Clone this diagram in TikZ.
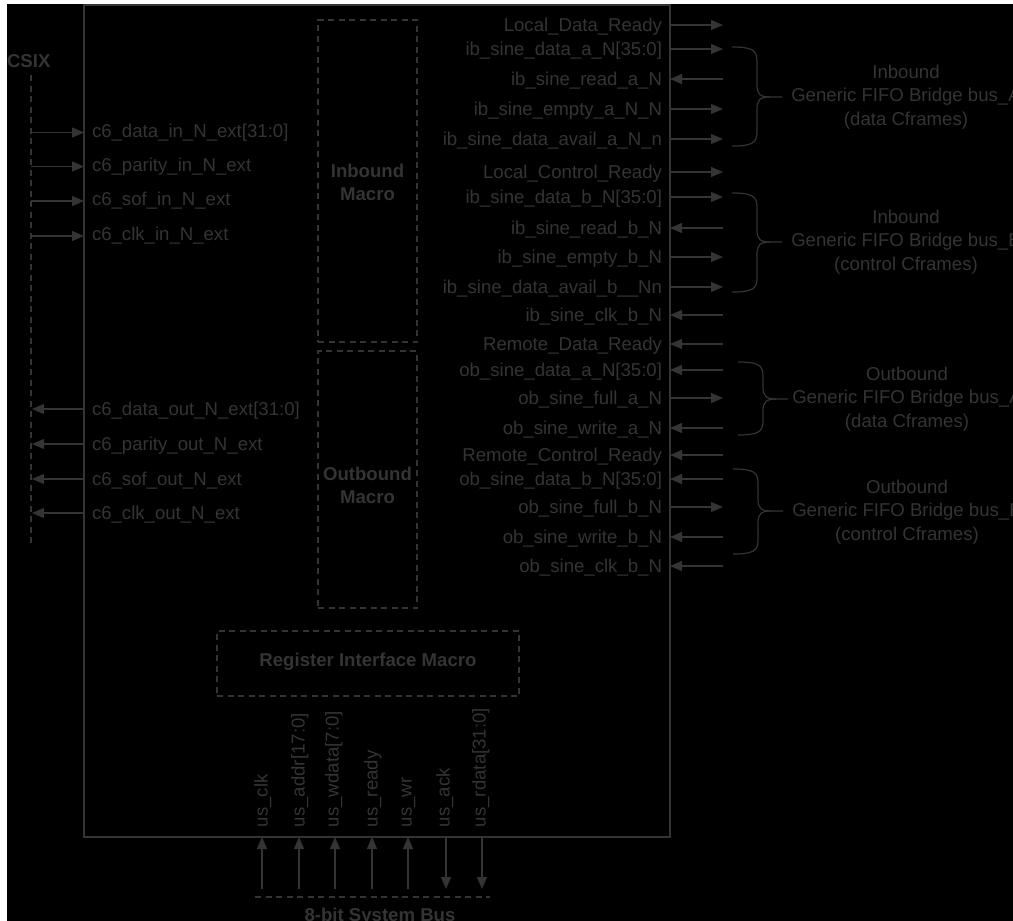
\documentclass[tikz,border=0pt]{standalone}
\usepackage{fontspec}
\setmainfont{Liberation Sans}
\usetikzlibrary{arrows.meta}
\definecolor{fg}{RGB}{52,52,52}
\newcommand\fifobrace[4]{%
  \draw[line] (#1,#2) .. controls (#1+20,#2) and (#1+25,#2+3) .. (#1+25,#2+14)
     -- (#1+25,#4-12) .. controls (#1+25,#4-3) and (#1+28,#4) .. (#1+38,#4) -- (#1+50,#4);
  \draw[line] (#1,#3) .. controls (#1+20,#3) and (#1+25,#3-3) .. (#1+25,#3-14)
     -- (#1+25,#4+12) .. controls (#1+25,#4+3) and (#1+28,#4) .. (#1+38,#4);
}
\begin{document}
\begin{tikzpicture}[x=1pt,y=-1pt,
  line/.style={draw=fg, line width=1.2pt},
  arr/.style={line, -{Triangle[length=12pt,width=10pt]}},
  dsh/.style={line, dash pattern=on 6pt off 4.5pt},
  lbl/.style={text=fg, font=\fontsize{18.6}{22}\selectfont, inner sep=0pt, outer sep=0pt, text height=13.4pt, text depth=0pt},
  bold/.style={lbl, font=\fontsize{18.6}{22}\selectfont\bfseries},
  mlbl/.style={text=fg, font=\fontsize{18.6}{23.5}\selectfont, inner sep=0pt, align=center},
  mbold/.style={mlbl, font=\fontsize{18.6}{23}\selectfont\bfseries},
]
\useasboundingbox (0,0) rectangle (1013,921);
\clip (0,0) rectangle (1013,921);
\fill[white] (0,0) rectangle (1013,921);
\fill[black] (7,4) rectangle (1013,921);

% main chip
\node[line, minimum width=586pt, minimum height=832pt, anchor=north west, inner sep=0pt, outer sep=0pt] (chip) at (84,5) {};

% macro boxes
\node[dsh, minimum width=99pt, minimum height=322pt, inner sep=0pt] (inb) at (367.5,181) {};
\node[mbold] (inbl) at (367.5,182) {Inbound\\Macro};
\node[dsh, minimum width=99pt, minimum height=257pt, inner sep=0pt] (outb) at (367.5,479.5) {};
\node[mbold] (outbl) at (367.5,485) {Outbound\\Macro};
\node[dsh, minimum width=302pt, minimum height=65pt, inner sep=0pt] (reg) at (368,663.5) {};
\node[bold] (regl) at (368,660) {Register Interface Macro};

% CSIX side
\node[bold, anchor=base west] (csix) at (7,67) {CSIX};
\coordinate (csixtop) at (31,75);
\coordinate (csixbot) at (31,547);
\draw[dsh] (csixtop) -- (csixbot);

\foreach \y/\t [count=\i] in {132.5/{c6\_data\_in\_N\_ext[31:0]},166.5/{c6\_parity\_in\_N\_ext},201/{c6\_sof\_in\_N\_ext},236/{c6\_clk\_in\_N\_ext}}{
  \coordinate (li\i) at (31,\y);
  \node[lbl, anchor=west] (ln\i) at (92,\y-2) {\t};
  \draw[arr] (li\i) -- (chip.west |- li\i);
}
\foreach \y/\t [count=\i] in {409/{c6\_data\_out\_N\_ext[31:0]},444/{c6\_parity\_out\_N\_ext},479/{c6\_sof\_out\_N\_ext},513/{c6\_clk\_out\_N\_ext}}{
  \coordinate (lo\i) at (32,\y);
  \node[lbl, anchor=west] (lon\i) at (92,\y) {\t};
  \draw[arr] (chip.west |- lo\i) -- (lo\i);
}

% right side outgoing
\foreach \y/\t [count=\i] in {25/{Local\_Data\_Ready},49/{ib\_sine\_data\_a\_N[35:0]},109/{ib\_sine\_empty\_a\_N\_N},139/{ib\_sine\_data\_avail\_a\_N\_n},172/{Local\_Control\_Ready},197/{ib\_sine\_data\_b\_N[35:0]},257/{ib\_sine\_empty\_b\_N},287/{ib\_sine\_data\_avail\_b\_\_Nn},398/{ob\_sine\_full\_a\_N},507/{ob\_sine\_full\_b\_N}}{
  \node[lbl, anchor=east] (ro\i) at (662,\y) {\t};
  \coordinate (roe\i) at (723,\y);
  \draw[arr] (chip.east |- ro\i) -- (roe\i);
}
% right side incoming
\foreach \y/\t [count=\i] in {79/{ib\_sine\_read\_a\_N},228/{ib\_sine\_read\_b\_N},315/{ib\_sine\_clk\_b\_N},344/{Remote\_Data\_Ready},370/{ob\_sine\_data\_a\_N[35:0]},428/{ob\_sine\_write\_a\_N},455/{Remote\_Control\_Ready},479/{ob\_sine\_data\_b\_N[35:0]},537/{ob\_sine\_write\_b\_N},566/{ob\_sine\_clk\_b\_N}}{
  \node[lbl, anchor=east] (ri\i) at (662,\y) {\t};
  \coordinate (rie\i) at (723,\y);
  \draw[arr] (rie\i) -- (chip.east |- ri\i);
}

% braces and bus descriptions
\fifobrace{732}{47}{146}{97}
\node[mlbl] (bus1) at (906,97) {Inbound\\Generic FIFO Bridge bus\_A\\(data Cframes)};
\fifobrace{732}{193}{292}{242}
\node[mlbl] (bus2) at (906,242) {Inbound\\Generic FIFO Bridge bus\_B\\(control Cframes)};
\fifobrace{738}{362}{435}{399}
\node[mlbl] (bus3) at (907,399) {Outbound\\Generic FIFO Bridge bus\_A\\(data Cframes)};
\fifobrace{733}{469}{554}{511}
\node[mlbl] (bus4) at (907,512) {Outbound\\Generic FIFO Bridge bus\_B\\(control Cframes)};

% system bus
\foreach \x/\lx/\t [count=\i] in {262/261/{us\_clk},299/298/{us\_addr[17:0]},335/332/{us\_wdata[7:0]},372/371/{us\_ready},408/405/{us\_wr}}{
  \coordinate (bu\i) at (\x,889);
  \node[lbl, anchor=west, rotate=90] (bul\i) at (\lx,827) {\t};
  \draw[arr] (bu\i) -- (bu\i |- chip.south);
}
\foreach \x/\lx/\t [count=\i] in {446/443/{us\_ack},482/479/{us\_rdata[31:0]}}{
  \coordinate (bd\i) at (\x,889);
  \node[lbl, anchor=west, rotate=90] (bdl\i) at (\lx,827) {\t};
  \draw[arr] (bd\i |- chip.south) -- (bd\i);
}
\coordinate (busL) at (255,897);
\coordinate (busR) at (490,897);
\draw[dsh] (busL) -- (busR);
\node[bold, anchor=base] (sysbus) at (380,921.5) {8-bit System Bus};
\end{tikzpicture}
\end{document}
